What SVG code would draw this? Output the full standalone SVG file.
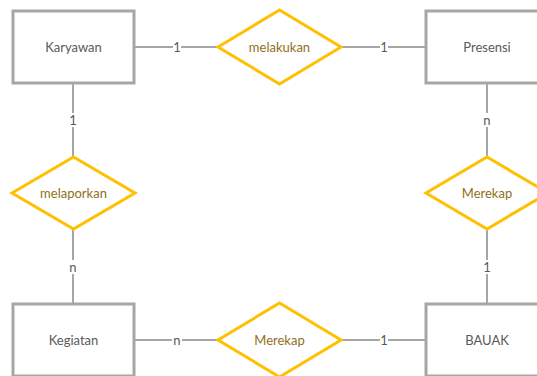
<svg xmlns="http://www.w3.org/2000/svg" width="537" height="376" viewBox="0 0 537 376">
<style>
.ent{fill:#fff;stroke:#a6a6a6;stroke-width:3}
.rel{fill:#fff;stroke:#ffc000;stroke-width:3;stroke-linejoin:miter}
.et{font-family:Lato,"Open Sans",sans-serif;font-size:13px;fill:#595959;text-anchor:middle;dominant-baseline:central}
.rt{font-family:Lato,"Open Sans",sans-serif;font-size:13px;fill:#8f6f1a;text-anchor:middle;dominant-baseline:central}
.ln{stroke:#a6a6a6;stroke-width:2;fill:none}
.lb{font-family:Lato,"Open Sans",sans-serif;font-size:13px;fill:#595959;text-anchor:middle;dominant-baseline:central}
.bg{fill:#fff}
</style>
<g id="connectors">
<line class="ln" x1="135" y1="47" x2="218" y2="47"/>
<line class="ln" x1="341" y1="47" x2="425" y2="47"/>
<line class="ln" x1="73" y1="84" x2="73" y2="157"/>
<line class="ln" x1="73" y1="229" x2="73" y2="303"/>
<line class="ln" x1="487" y1="84" x2="487" y2="157"/>
<line class="ln" x1="487" y1="229" x2="487" y2="303"/>
<line class="ln" x1="135" y1="340" x2="218" y2="340"/>
<line class="ln" x1="341" y1="340" x2="425" y2="340"/>
<rect class="bg" x="173" y="40" width="8" height="14"/>
<text class="lb" x="177" y="47">1</text>
<rect class="bg" x="380" y="40" width="8" height="14"/>
<text class="lb" x="384" y="47">1</text>
<rect class="bg" x="68" y="113" width="10" height="14"/>
<text class="lb" x="73" y="120">1</text>
<rect class="bg" x="68" y="260" width="10" height="14"/>
<text class="lb" x="73" y="267">n</text>
<rect class="bg" x="482" y="113" width="10" height="14"/>
<text class="lb" x="487" y="120">n</text>
<rect class="bg" x="482" y="260" width="10" height="14"/>
<text class="lb" x="487" y="267">1</text>
<rect class="bg" x="172" y="333" width="10" height="14"/>
<text class="lb" x="177" y="340">n</text>
<rect class="bg" x="380" y="333" width="8" height="14"/>
<text class="lb" x="384" y="340">1</text>
</g>
<g id="karyawan"><rect class="ent" x="13" y="11" width="121" height="72"/><text class="et" x="73.5" y="47">Karyawan</text></g>
<g id="presensi"><rect class="ent" x="426" y="11" width="121" height="72"/><text class="et" x="487" y="47">Presensi</text></g>
<g id="kegiatan"><rect class="ent" x="13" y="304" width="121" height="72"/><text class="et" x="73.5" y="340">Kegiatan</text></g>
<g id="bauak"><rect class="ent" x="426" y="304" width="121" height="72"/><text class="et" x="487" y="340">BAUAK</text></g>
<g id="melakukan"><polygon class="rel" points="218,47 279.5,10 341,47 279.5,84"/><text class="rt" x="279.5" y="47">melakukan</text></g>
<g id="melaporkan"><polygon class="rel" points="12,193 73.5,157 135,193 73.5,229"/><text class="rt" x="73.5" y="193">melaporkan</text></g>
<g id="merekap1"><polygon class="rel" points="426,193 487,157 548,193 487,229"/><text class="rt" x="487" y="193">Merekap</text></g>
<g id="merekap2"><polygon class="rel" points="218,340 279.5,303 341,340 279.5,377"/><text class="rt" x="279.5" y="340">Merekap</text></g>
</svg>
